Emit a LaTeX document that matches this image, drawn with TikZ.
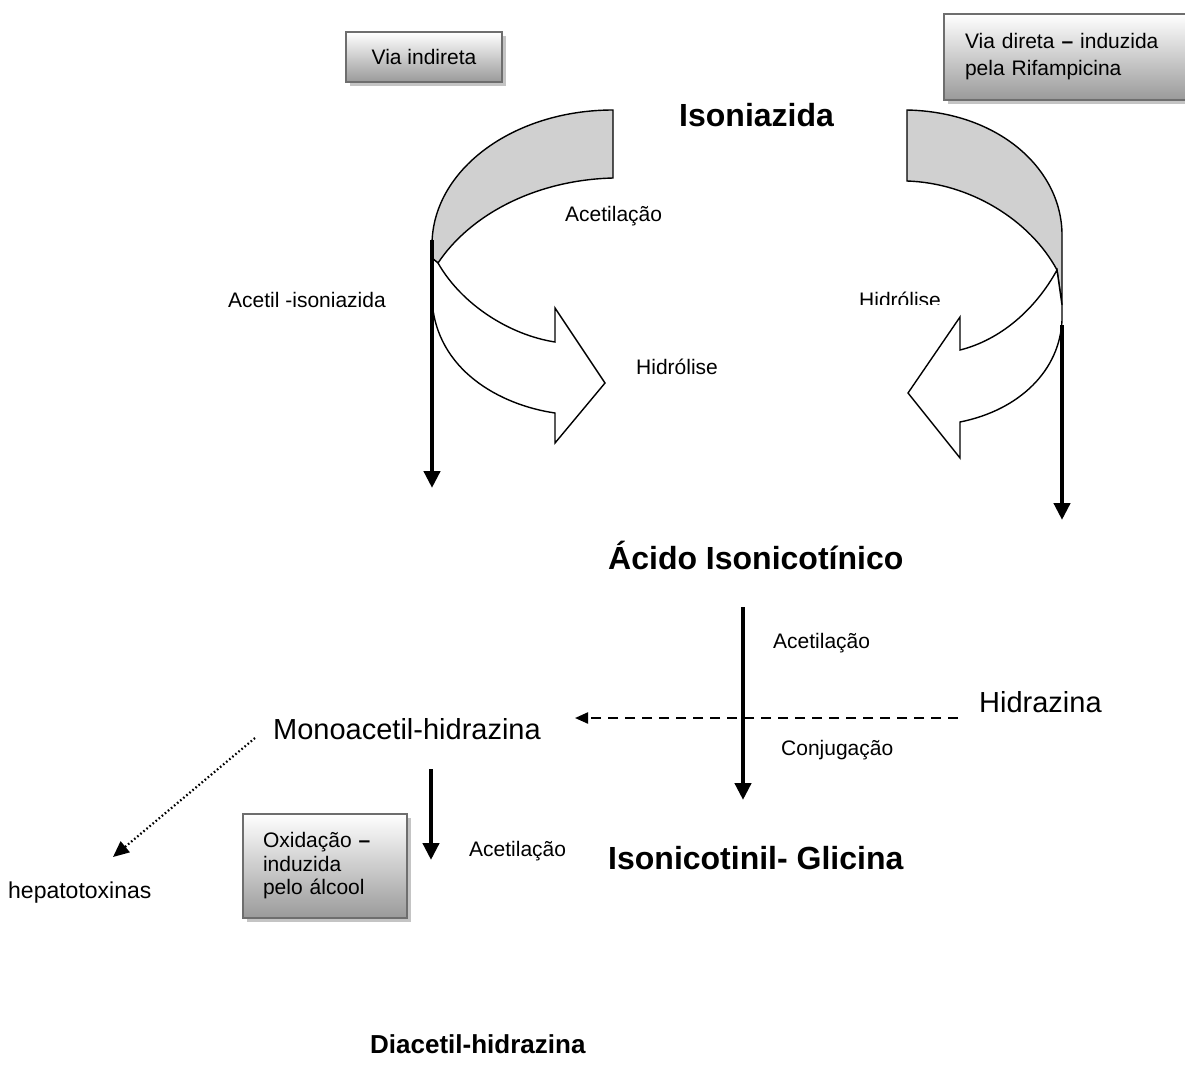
\documentclass[tikz,border=0pt]{standalone}
\usepackage{fontspec}
\setmainfont{Liberation Sans}
\usetikzlibrary{arrows.meta,shadows}
\definecolor{bandgray}{HTML}{D0D0D0}
\definecolor{boxborder}{HTML}{6E6E6E}
\definecolor{boxbottom}{HTML}{9A9A9A}
\definecolor{shadowgray}{HTML}{C4C4C4}
\tikzset{
  procbox/.style={draw=boxborder, line width=2pt, top color=white, bottom color=boxbottom,
    drop shadow={shadow xshift=4pt, shadow yshift=-4pt, fill=shadowgray, opacity=1},
    align=left},
  backband/.style={fill=bandgray, draw=black, line width=1.4pt, line join=miter},
  frontarrow/.style={fill=white, draw=black, line width=1.4pt, line join=miter},
  thickarrow/.style={line width=4.5pt, -{Triangle[length=17pt,width=16pt]}},
  dasharrow/.style={line width=2.2pt, dash pattern=on 10pt off 7pt, -{Triangle[length=13pt,width=11pt]}},
  dotarrow/.style={line width=2.2pt, dash pattern=on 1.6pt off 2.4pt, -{Triangle[length=16pt,width=14pt]}},
  lbl/.style={inner sep=0pt, anchor=base west},
  small/.style={font=\fontsize{21}{25}\selectfont},
  mid/.style={font=\fontsize{29}{34}\selectfont},
  big/.style={font=\fontsize{32}{38}\selectfont\bfseries},
}
\begin{document}
\begin{tikzpicture}[x=1pt,y=-1pt]
\useasboundingbox (0,0) rectangle (1185,1082);

% boxes
\node[procbox, small, minimum width=156pt, minimum height=50pt, inner sep=0pt] (vi) at (424,57) {Via indireta};
\node[procbox, anchor=north west, font=\fontsize{21}{27}\selectfont, minimum height=86pt, text width=230pt, inner xsep=21pt, inner ysep=0pt] (vd) at (943,13) {Via direta \textbf{–} induzida\\pela Rifampicina};
\node[procbox, font=\fontsize{21}{23.5}\selectfont, minimum width=164pt, minimum height=104pt, text width=124pt, inner xsep=20pt, inner ysep=0pt] (ox) at (325,866) {Oxidação \textbf{–}\\induzida\\pelo álcool};

% left curved arrow
\path[backband] (613,110) .. controls (513,110) and (432,170) .. (432,245) -- (432,258) -- (438,263) .. controls (470,215) and (535,180) .. (613,178) -- cycle;
\path[frontarrow] (438,263) .. controls (462,305) and (510,335) .. (555,342) -- (555,308) -- (605,383) -- (555,443) -- (555,413) .. controls (500,405) and (436,370) .. (432,300) -- (432,258) -- cycle;

% right curved arrow
\path[backband] (907,110) .. controls (1000,112) and (1062,170) .. (1062,235) -- (1062,305) -- (1057,270) .. controls (1030,220) and (970,183) .. (907,181) -- cycle;
\path[frontarrow] (1057,270) .. controls (1035,310) and (1000,340) .. (960,350) -- (960,317) -- (908,393) -- (960,458) -- (960,422) .. controls (1020,410) and (1060,370) .. (1062,320) -- (1062,305) -- cycle;

% connector end points
\coordinate (la0) at (432,240); \coordinate (la1) at (432,488);
\coordinate (ra0) at (1062,325); \coordinate (ra1) at (1062,520);
\coordinate (ma0) at (743,607); \coordinate (ma1) at (743,800);
\coordinate (ba0) at (431,769); \coordinate (ba1) at (431,860);
\coordinate (da0) at (958,718); \coordinate (da1) at (575,718);
\coordinate (oa0) at (255,738); \coordinate (oa1) at (113,857);

\draw[thickarrow] (la0) -- (la1);
\draw[thickarrow] (ra0) -- (ra1);
\draw[thickarrow] (ma0) -- (ma1);
\draw[thickarrow] (ba0) -- (ba1);
\draw[dasharrow] (da0) -- (da1);
\draw[dotarrow] (oa0) -- (oa1);

% labels
\node[lbl, big] (iso) at (679,126) {Isoniazida};
\node[lbl, small] (ac1) at (565,221) {Acetilação};
\node[lbl, small] (aci) at (228,307) {Acetil -isoniazida};
\node[lbl, small] (hi1) at (636,374) {Hidrólise};
\begin{scope}
\clip (840,280) rectangle (960,304);
\node[lbl, small] (hi2) at (859,307) {Hidrólise};
\end{scope}
\node[lbl, big] (aci2) at (608,569) {Ácido Isonicotínico};
\node[lbl, small] (ac2) at (773,648) {Acetilação};
\node[lbl, small] (conj) at (781,755) {Conjugação};
\node[lbl, mid] (hid) at (979,712) {Hidrazina};
\node[lbl, mid] (mono) at (273,739) {Monoacetil-hidrazina};
\node[lbl, small] (ac3) at (469,856) {Acetilação};
\node[lbl, big] (gli) at (608,869) {Isonicotinil- Glicina};
\node[lbl, font=\fontsize{23}{27}\selectfont] (hep) at (8,898) {hepatotoxinas};
\node[lbl, font=\fontsize{26}{31}\selectfont\bfseries] (dia) at (370,1053) {Diacetil-hidrazina};
\end{tikzpicture}
\end{document}
